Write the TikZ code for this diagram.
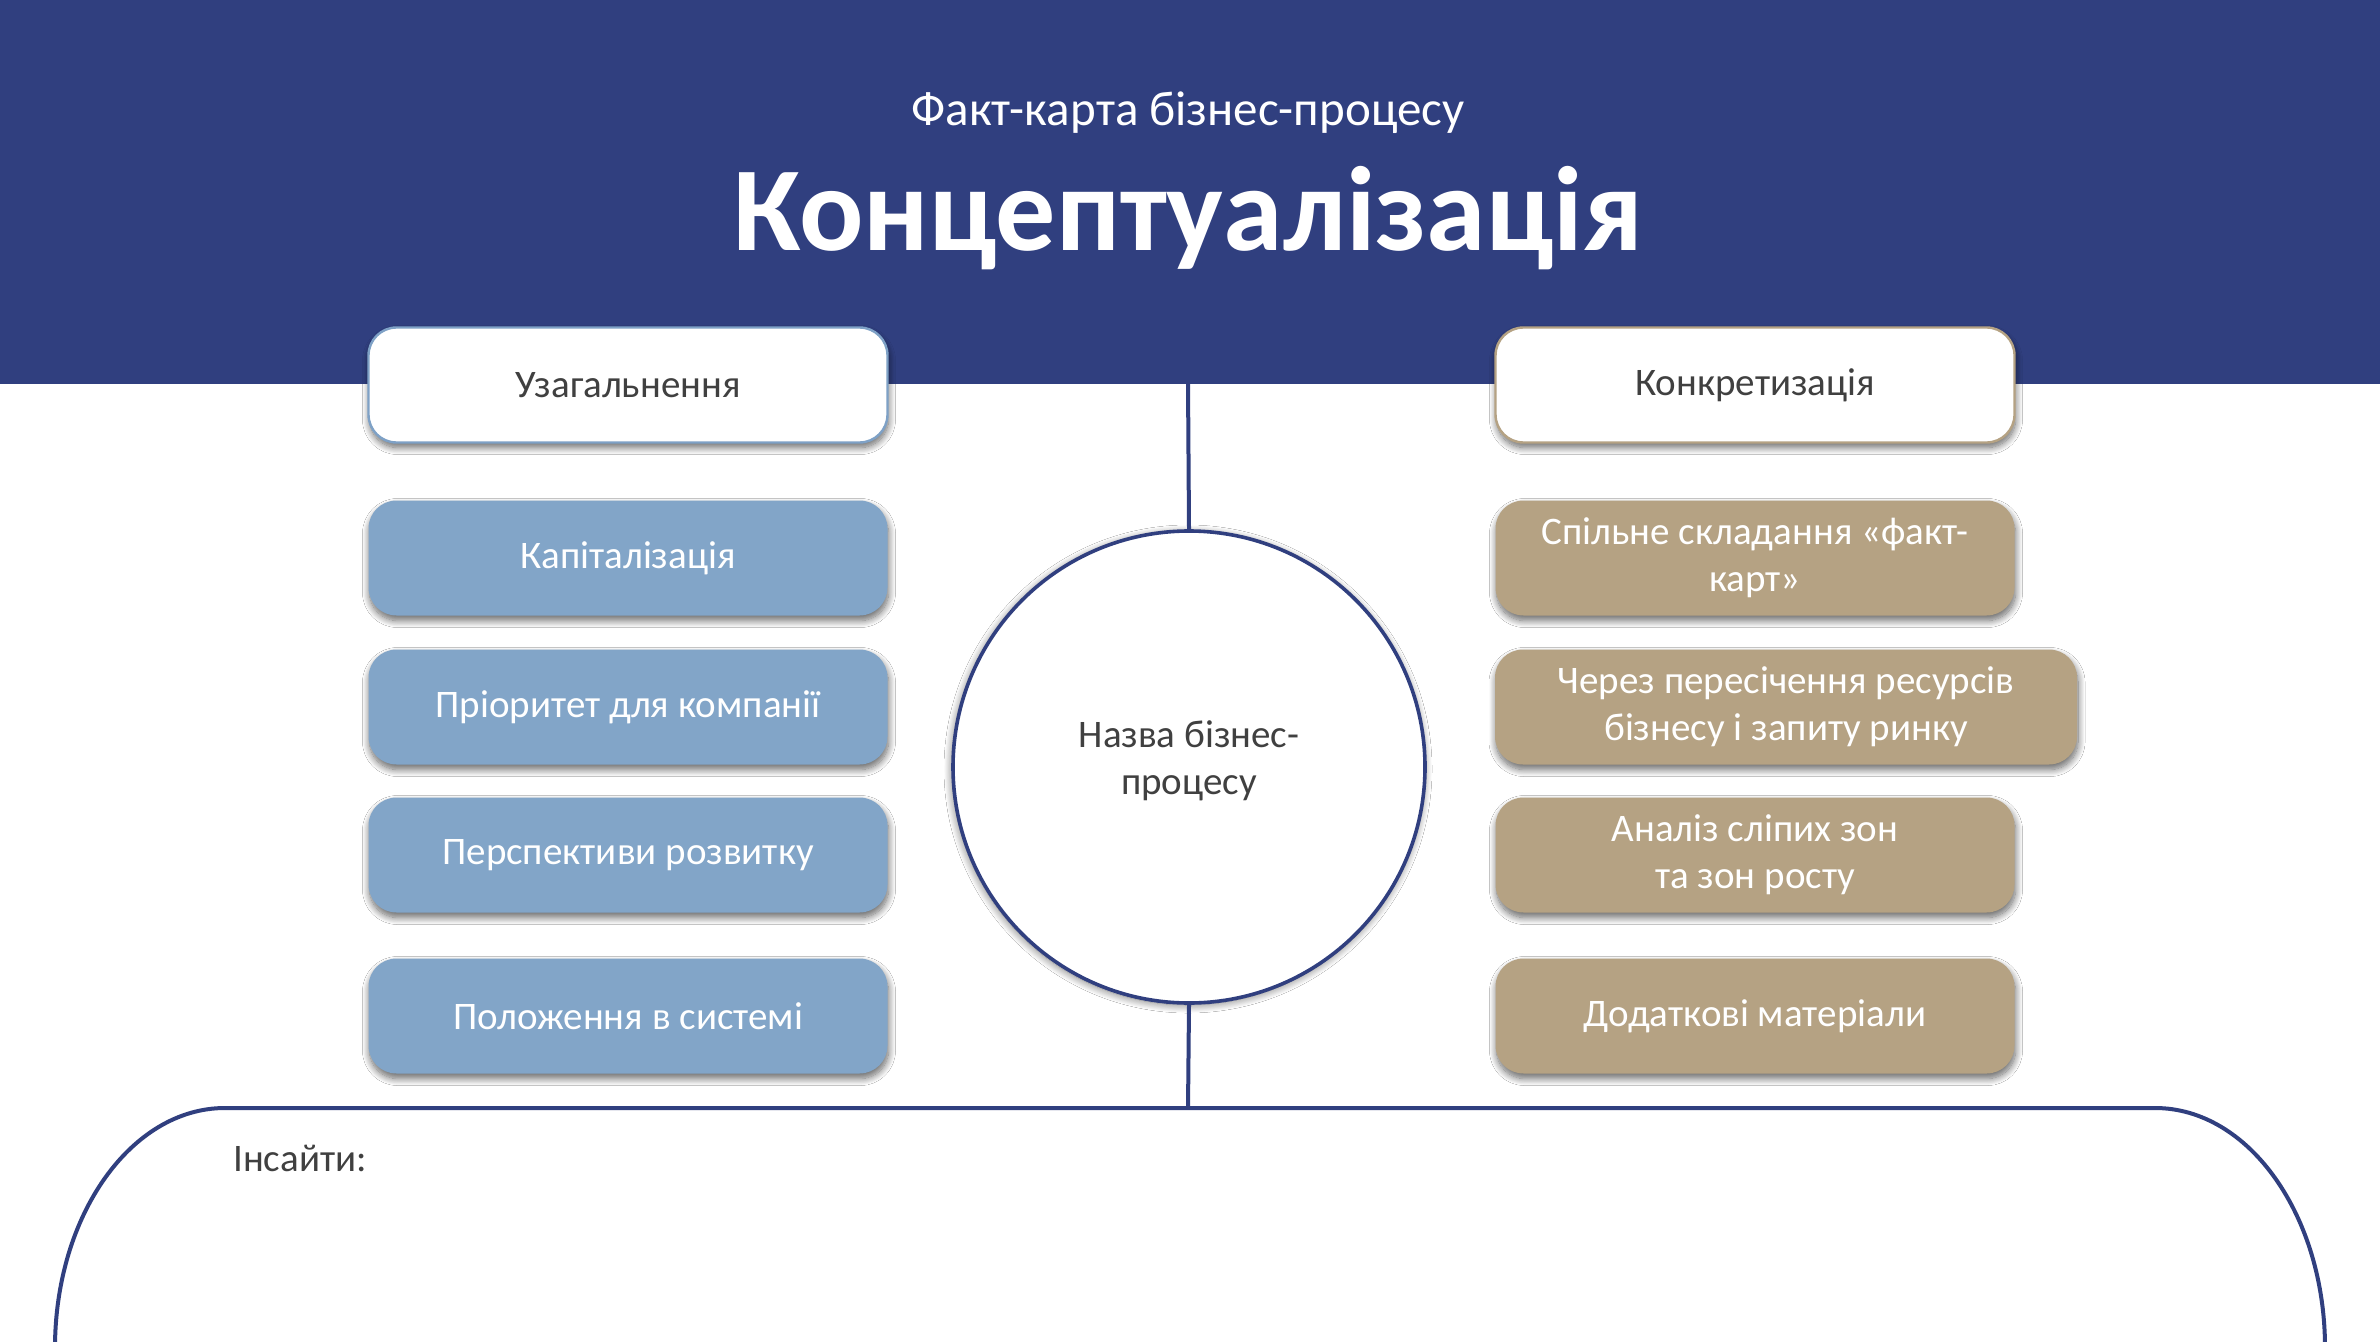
\documentclass[tikz,border=0pt]{standalone}
\usepackage{fontspec}
\setmainfont{Carlito}
\usetikzlibrary{shadows.blur}
\definecolor{navy}{HTML}{303F7F}
\definecolor{boxblue}{HTML}{82A5C8}
\definecolor{boxtan}{HTML}{B5A283}
\definecolor{txtgray}{HTML}{404040}
\definecolor{edgeblue}{HTML}{7EA1C6}
\begin{document}
\begin{tikzpicture}[x=0.5pt,y=-0.5pt,
  softshadow/.style={blur shadow={shadow xshift=0.5pt, shadow yshift=-2.5pt, shadow blur radius=3.5pt, shadow opacity=60, shadow blur steps=12}},
  item/.style={rounded corners=14pt, minimum width=259.5pt, minimum height=57.5pt,
    text=white, font=\fontsize{19.5}{23.5}\selectfont, align=center, inner sep=0pt, softshadow},
  bluebox/.style={item, fill=boxblue},
  tanbox/.style={item, fill=boxtan},
  headbox/.style={item, fill=white, text=txtgray, line width=1.2pt},
  navyline/.style={draw=navy, line width=2pt},
]
\useasboundingbox (0,0) rectangle (2380,1342);
\fill[white] (0,0) rectangle (2380,1342);
\fill[navy] (0,0) rectangle (2380,384);

\node[text=white, font=\fontsize{24.5}{29}\selectfont] (sub) at (1188,113) {Факт-карта бізнес-процесу};
\node[text=white, font=\bfseries\fontsize{60}{70}\selectfont] (title) at (1188,218) {Концептуалізація};

% connectors
\coordinate (ltop) at (1188,384);
\coordinate (lbot) at (1188,1108);
\node[circle, draw=navy, line width=1.8pt, fill=white, minimum size=236pt, inner sep=0pt,
  blur shadow={shadow xshift=-0.5pt, shadow yshift=-1pt, shadow blur radius=4pt, shadow opacity=55, shadow blur steps=12}]
  (c) at (1189,767) {};
\node[text=txtgray, align=center, font=\fontsize{19.5}{23.5}\selectfont] (cname) at (1189,761) {Назва бізнес-\\процесу};
\draw[navyline] (ltop) -- (c.north);
\draw[navyline] (c.south) -- (lbot);

% left column
\node[headbox, draw=edgeblue] (gen) at (628,385) {Узагальнення};
\node[bluebox] (l1) at (628,558) {Капіталізація};
\node[bluebox] (l2) at (628,707) {Пріоритет для компанії};
\node[bluebox] (l3) at (628,855) {Перспективи розвитку};
\node[bluebox] (l4) at (628,1016) {Положення в системі};

% right column
\node[headbox, draw=boxtan] (con) at (1755,385) {Конкретизація};
\node[tanbox] (r1) at (1755,558) {Спільне складання «факт-\\карт»};
\node[tanbox, minimum width=291pt] (r2) at (1786,707) {Через пересічення ресурсів\\бізнесу і запиту ринку};
\node[tanbox] (r3) at (1755,855) {Аналіз сліпих зон\\та зон росту};
\node[tanbox] (r4) at (1755,1016) {Додаткові матеріали};

% insights panel
\draw[navyline] (55,1360) -- (55,1348) arc[start angle=180, end angle=270, x radius=170, y radius=240]
  -- (2155,1108) arc[start angle=270, end angle=360, x radius=170, y radius=240] -- (2325,1360);
\node[text=txtgray, font=\fontsize{19.5}{23.5}\selectfont] (ins) at (300,1158) {Інсайти:};
\end{tikzpicture}
\end{document}
